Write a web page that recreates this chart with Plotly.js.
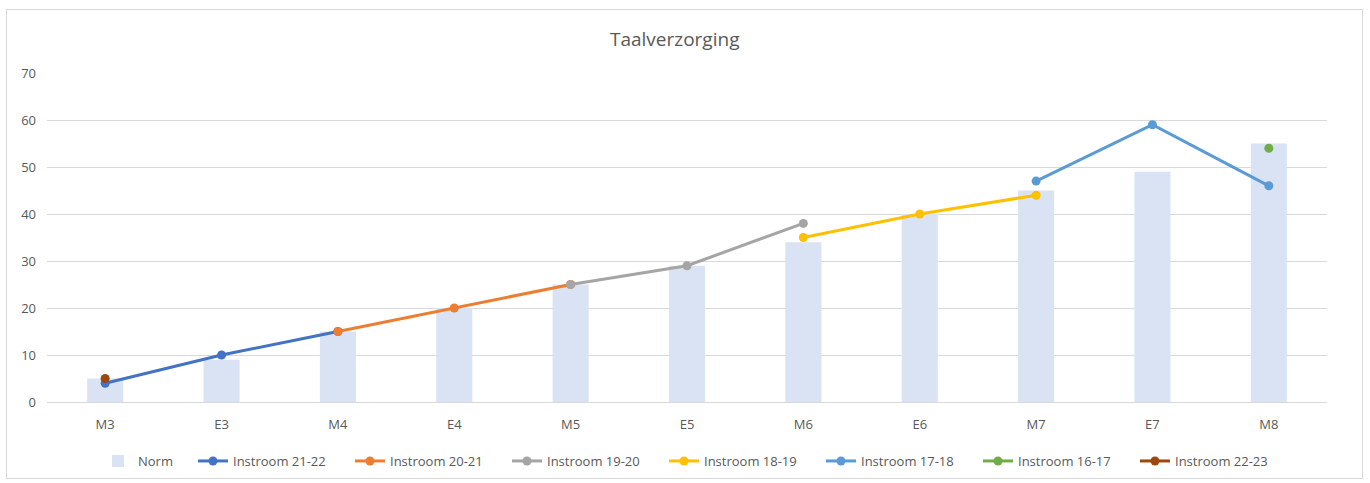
<!DOCTYPE html>
<html>
<head>
<meta charset="utf-8">
<script src="https://cdn.plot.ly/plotly-3.0.1.min.js"></script>
<style>
html,body{margin:0;padding:0;background:#fff;}
#wrap{position:relative;width:1370px;height:483px;}
#chart{width:1370px;height:483px;}
#frame{position:absolute;left:6px;top:9px;width:1355px;height:468px;border:1px solid #d9d9d9;pointer-events:none;}
</style>
</head>
<body>
<div id="wrap"><div id="chart"></div><div id="frame"></div></div>
<script>
const categories = ["M3","E3","M4","E4","M5","E5","M6","E6","M7","E7","M8"];
const norm       = [5, 9, 15, 20, 25, 29, 34, 40, 45, 49, 55];
const instroom2122 = [4, 10, 15, null, null, null, null, null, null, null, null];
const instroom2021 = [null, null, 15, 20, 25, null, null, null, null, null, null];
const instroom1920 = [null, null, null, null, 25, 29, 38, null, null, null, null];
const instroom1819 = [null, null, null, null, null, null, 35, 40, 44, null, null];
const instroom1718 = [null, null, null, null, null, null, null, null, 47, 59, 46];
const instroom1617 = [null, null, null, null, null, null, null, null, null, null, 54];
const instroom2223 = [5, null, null, null, null, null, null, null, null, null, null];
const yTicks = [0, 10, 20, 30, 40, 50, 60, 70];

const lineSeries = [
  {name: "Instroom 21-22", y: instroom2122, color: "#4472C4"},
  {name: "Instroom 20-21", y: instroom2021, color: "#ED7D31"},
  {name: "Instroom 19-20", y: instroom1920, color: "#A5A5A5"},
  {name: "Instroom 18-19", y: instroom1819, color: "#FFC000"},
  {name: "Instroom 17-18", y: instroom1718, color: "#5B9BD5"},
  {name: "Instroom 16-17", y: instroom1617, color: "#70AD47"},
  {name: "Instroom 22-23", y: instroom2223, color: "#9E480E"}
];

const traces = [{
  type: "bar", name: "Norm", x: categories, y: norm,
  marker: {color: "#DAE3F3"}, hoverinfo: "skip", legendwidth: 50
}];
lineSeries.forEach(s => traces.push({
  type: "scatter", mode: "lines+markers", name: s.name,
  x: categories, y: s.y, connectgaps: false,
  line: {color: s.color, width: 3},
  marker: {color: s.color, size: 9},
  hoverinfo: "skip", legendwidth: 112
}));

const font = "'Open Sans', 'Noto Sans', sans-serif";
const layout = {
  width: 1370, height: 483,
  margin: {l: 47, r: 43, t: 73, b: 81, autoexpand: false},
  paper_bgcolor: "#ffffff", plot_bgcolor: "#ffffff",
  font: {family: font, size: 13, color: "#595959"},
  title: {text: "Taalverzorging", font: {family: font, size: 19, color: "#595959"},
          x: 0.4925, xanchor: "center", y: 1 - 39/483, yanchor: "middle", yref: "container"},
  bargap: 0.69,
  showlegend: true,
  legend: {orientation: "h", x: 98/1370, xanchor: "left", xref: "container",
           y: 1 - 461/483, yanchor: "middle", yref: "container",
           font: {family: font, size: 13, color: "#595959"}, traceorder: "normal",
           itemwidth: 30},
  xaxis: {type: "category", range: [-0.5, 10.5], showgrid: false, zeroline: false, showline: true,
          linecolor: "#d9d9d9", linewidth: 1, ticks: "", ticklabelstandoff: 10,
          automargin: false,
          tickfont: {family: font, size: 13, color: "#595959"}, fixedrange: true},
  yaxis: {range: [0, 70], tickvals: yTicks, showgrid: true, gridcolor: "#d9d9d9",
          gridwidth: 1, zeroline: true, zerolinecolor: "#d9d9d9", showline: false,
          ticks: "", ticklabelstandoff: 10, automargin: false,
          tickfont: {family: font, size: 13, color: "#595959"}, fixedrange: true}
};

Plotly.newPlot("chart", traces, layout, {displayModeBar: false, staticPlot: true});
</script>
</body>
</html>
